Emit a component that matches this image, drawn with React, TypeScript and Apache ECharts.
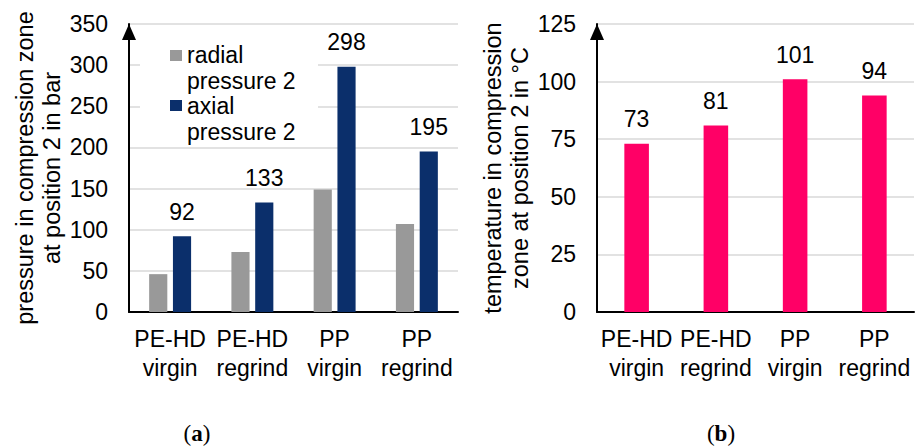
import React, { useEffect, useRef } from 'react';
import * as echarts from 'echarts';

const categories = ['PE-HD\nvirgin', 'PE-HD\nregrind', 'PP\nvirgin', 'PP\nregrind'];
const radialPressure = [46, 73, 149, 107];
const axialPressure = [92, 133, 298, 195];
const temperature = [73, 81, 101, 94];
const pressureTicks = [0, 50, 100, 150, 200, 250, 300, 350];
const temperatureTicks = [0, 25, 50, 75, 100, 125];
const legendNames = ['radial\npressure 2', 'axial\npressure 2'];
const pressureTitle = 'pressure in compression zone\nat position 2 in bar';
const temperatureTitle = 'temperature in compression\nzone at position 2 in °C';
const panelLabels = ['a', 'b'];

const GRAY = '#999999';
const NAVY = '#0b2f6b';
const PINK = '#ff0066';
const FONT = '"Liberation Sans", Arial, sans-serif';
const FS = 23;

function yAxis(gridIndex: number, ticks: number[], name: string) {
  return {
    type: 'value',
    gridIndex,
    min: ticks[0],
    max: ticks[ticks.length - 1],
    interval: ticks[1] - ticks[0],
    name,
    nameLocation: 'middle',
    nameRotate: 90,
    nameGap: 62,
    nameTextStyle: { fontFamily: FONT, fontSize: 23.5, color: '#000', lineHeight: 27 },
    axisLine: {
      show: true,
      lineStyle: { color: '#000', width: 2 },
      symbol: ['none', 'triangle'],
      symbolSize: [14, 16],
      symbolOffset: [0, -8],
    },
    axisTick: { show: false },
    axisLabel: { fontFamily: FONT, fontSize: FS, color: '#000', margin: 21 },
    splitLine: { show: true, lineStyle: { color: '#d9d9d9', width: 1.5 } },
  };
}

function xAxis(gridIndex: number) {
  return {
    type: 'category',
    gridIndex,
    data: categories,
    axisLine: { show: true, lineStyle: { color: '#000', width: 2 } },
    axisTick: { show: false },
    axisLabel: {
      interval: 0,
      fontFamily: FONT,
      fontSize: FS,
      color: '#000',
      lineHeight: 29,
      margin: 12,
    },
  };
}

export default function App() {
  const ref = useRef<HTMLDivElement>(null);
  useEffect(() => {
    if (!ref.current) return;
    const chart = echarts.init(ref.current, undefined, { renderer: 'svg' });
    const labelStyle = {
      show: true,
      position: 'top',
      distance: 13,
      fontFamily: FONT,
      fontSize: FS,
      color: '#000',
    };
    const serifRich = {
      p: { fontFamily: '"Liberation Serif", serif', fontSize: 23, fill: '#000' },
      b: { fontFamily: '"Liberation Serif", serif', fontSize: 23, fontWeight: 'bold', fill: '#000' },
    };
    chart.setOption({
      animation: false,
      backgroundColor: '#ffffff',
      grid: [
        { left: 129, right: 458, top: 24, bottom: 134 },
        { left: 597, right: 2, top: 24, bottom: 134 },
      ],
      xAxis: [xAxis(0), xAxis(1)],
      yAxis: [yAxis(0, pressureTicks, pressureTitle), yAxis(1, temperatureTicks, temperatureTitle)],
      series: [
        {
          type: 'bar',
          name: legendNames[0],
          xAxisIndex: 0,
          yAxisIndex: 0,
          data: radialPressure,
          itemStyle: { color: GRAY },
          barGap: '31%',
          barCategoryGap: '49%',
        },
        {
          type: 'bar',
          name: legendNames[1],
          xAxisIndex: 0,
          yAxisIndex: 0,
          data: axialPressure,
          itemStyle: { color: NAVY },
          barGap: '31%',
          barCategoryGap: '49%',
          label: labelStyle,
        },
        {
          type: 'bar',
          name: 'temperature',
          xAxisIndex: 1,
          yAxisIndex: 1,
          data: temperature,
          itemStyle: { color: PINK },
          barCategoryGap: '69%',
          label: labelStyle,
        },
      ],
      graphic: [
        { type: 'rect', z: 1, shape: { x: 140, y: 30, width: 178, height: 110 }, style: { fill: '#fff' } },
        { type: 'rect', z: 3, shape: { x: 170, y: 50, width: 12, height: 11 }, style: { fill: GRAY } },
        {
          type: 'text', z: 3, x: 187, y: 42,
          style: { text: legendNames[0], fontFamily: FONT, fontSize: FS, lineHeight: 26, fill: '#000', textVerticalAlign: 'top' },
        },
        { type: 'rect', z: 3, shape: { x: 170, y: 100, width: 12, height: 11 }, style: { fill: NAVY } },
        {
          type: 'text', z: 3, x: 187, y: 93,
          style: { text: legendNames[1], fontFamily: FONT, fontSize: FS, lineHeight: 26, fill: '#000', textVerticalAlign: 'top' },
        },
        {
          type: 'text', x: 197, y: 433,
          style: { text: `{p|(}{b|${panelLabels[0]}}{p|)}`, align: 'center', verticalAlign: 'middle', rich: serifRich },
        },
        {
          type: 'text', x: 721, y: 433,
          style: { text: `{p|(}{b|${panelLabels[1]}}{p|)}`, align: 'center', verticalAlign: 'middle', rich: serifRich },
        },
      ],
    });
    return () => chart.dispose();
  }, []);
  return (
    <div
      ref={ref}
      style={{ position: 'fixed', left: 0, top: 0, width: 916, height: 446, background: '#fff' }}
    />
  );
}
